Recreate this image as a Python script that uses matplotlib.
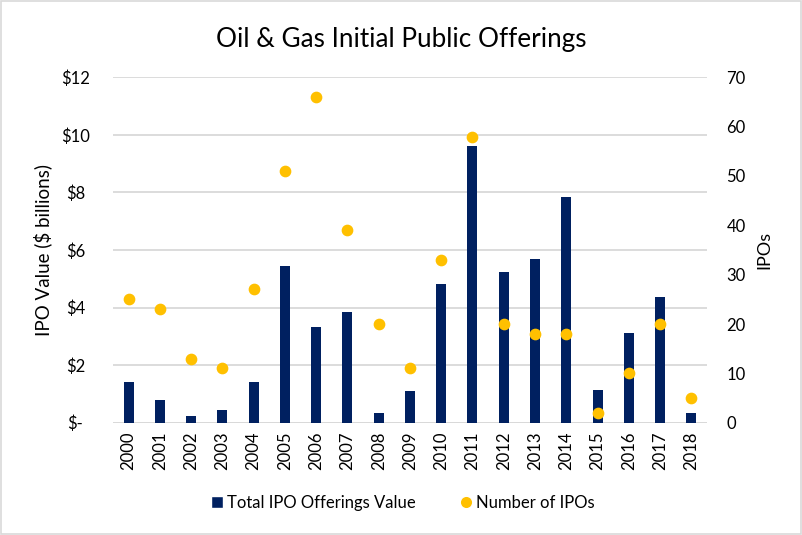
import matplotlib
matplotlib.use("Agg")
import matplotlib.pyplot as plt
from matplotlib.patches import Rectangle
from matplotlib.lines import Line2D
from matplotlib.ticker import FixedLocator

years = ["2000", "2001", "2002", "2003", "2004", "2005", "2006", "2007", "2008", "2009",
         "2010", "2011", "2012", "2013", "2014", "2015", "2016", "2017", "2018"]
ipo_value = [1.41, 0.79, 0.23, 0.44, 1.41, 5.44, 3.33, 3.85, 0.34, 1.10,
             4.82, 9.60, 5.23, 5.70, 7.84, 1.14, 3.12, 4.37, 0.34]
ipo_count = [25, 23, 13, 11, 27, 51, 66, 39, 20, 11,
             33, 58, 20, 18, 18, 2, 10, 20, 5]
left_ticks = [0, 2, 4, 6, 8, 10, 12]
left_labels = ["$-", "$2", "$4", "$6", "$8", "$10", "$12"]
right_ticks = [0, 10, 20, 30, 40, 50, 60, 70]

plt.rcParams['font.family'] = ['Lato', 'DejaVu Sans']
navy = "#002060"
gold = "#FFC000"
grid_c = "#D9D9D9"
txt = "#000000"

fig = plt.figure(figsize=(8.03, 5.35), dpi=100)
ax = fig.add_axes([0.1407, 0.2099, 0.7397, 0.6456])
x = list(range(len(years)))
ax.bar(x, ipo_value, width=0.32, color=navy, zorder=2, label="Total IPO Offerings Value")
ax.set_xlim(-0.5, len(years) - 0.5)
ax.set_ylim(0, 12)
ax.yaxis.set_major_locator(FixedLocator(left_ticks))
ax.set_yticklabels(left_labels)
ax.set_xticks(x)
ax.set_xticklabels(years, rotation=90)
ax.grid(axis='y', color=grid_c, linewidth=1.3, zorder=0)
ax.set_axisbelow(True)
for s in ax.spines.values():
    s.set_visible(False)
ax.axhline(0, color=grid_c, linewidth=1.3, zorder=1)
ax.tick_params(axis='both', length=0, labelsize=12, colors="#404040", labelcolor=txt)
ax.tick_params(axis='y', pad=27)
ax.tick_params(axis='x', pad=6)
for lbl in ax.get_yticklabels():
    lbl.set_horizontalalignment('center')
ax.set_ylabel("IPO Value ($ billions)", fontsize=13.5, color=txt)
ax.yaxis.set_label_coords(-0.103, 0.5)

ax2 = ax.twinx()
ax2.scatter(x, ipo_count, s=55, color=gold, zorder=3, label="Number of IPOs")
ax2.set_ylim(0, 70)
ax2.yaxis.set_major_locator(FixedLocator(right_ticks))
for s in ax2.spines.values():
    s.set_visible(False)
ax2.tick_params(axis='y', length=0, labelsize=12, labelcolor=txt, pad=14)
ax2.set_ylabel("IPOs", fontsize=13, color=txt)
ax2.yaxis.set_label_coords(1.0825, 0.5)

fig.suptitle("Oil & Gas Initial Public Offerings", fontsize=18.8, y=0.95, color=txt)

handles = [Line2D([0], [0], marker='s', color='w', markerfacecolor=navy, markersize=9),
           Line2D([0], [0], marker='o', color='w', markerfacecolor=gold, markersize=9)]
fig.legend(handles, ["Total IPO Offerings Value", "Number of IPOs"], loc='center',
           bbox_to_anchor=(0.5, 0.06), ncol=2, frameon=False, fontsize=12,
           handletextpad=0.1, columnspacing=2.5, handlelength=1.0)

fig.patches.append(Rectangle((0.001, 0.001), 0.997, 0.997, transform=fig.transFigure,
                             fill=False, edgecolor="#D9D9D9", linewidth=1.2))
fig.savefig("out.png", dpi=100, facecolor="white")
